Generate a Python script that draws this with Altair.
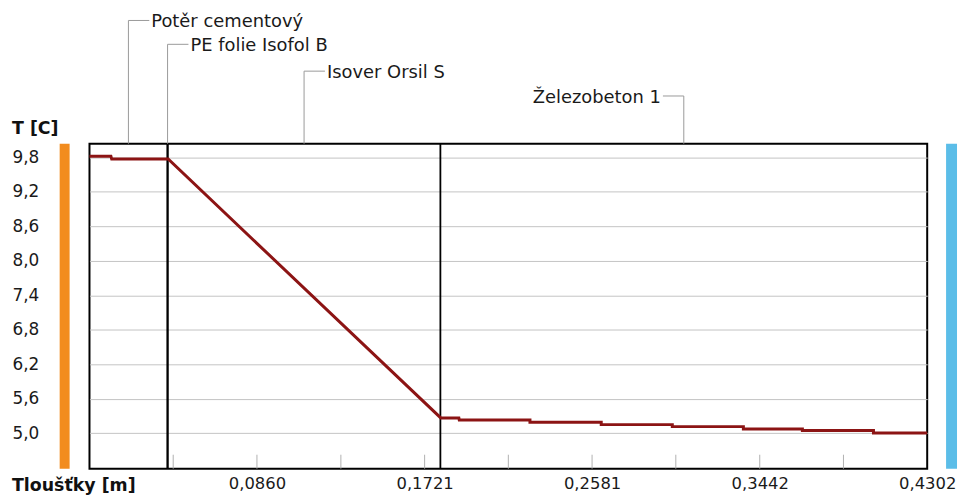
import altair as alt
import pandas as pd

# ---- data -------------------------------------------------------------
layer_names = ["Potěr cementový", "PE folie Isofol B", "Isover Orsil S", "Železobeton 1"]
layer_thickness = [0.0400, 0.0002, 0.1400, 0.2500]

profile_depth = [0.0000, 0.0110, 0.0114, 0.0402, 0.0404, 0.1804, 0.1897, 0.1899,
                 0.2262, 0.2262, 0.2628, 0.2628, 0.2993, 0.2993, 0.3358, 0.3358,
                 0.3661, 0.3661, 0.4026, 0.4026, 0.4302]
profile_temp = [9.82, 9.82, 9.77, 9.77, 9.77, 5.265, 5.265, 5.23,
                5.23, 5.19, 5.19, 5.149, 5.149, 5.114, 5.114, 5.074,
                5.074, 5.045, 5.045, 5.005, 5.005]

y_tick_values = [5.0, 5.6, 6.2, 6.8, 7.4, 8.0, 8.6, 9.2, 9.8]
x_tick_values = [0.0860, 0.1721, 0.2581, 0.3442, 0.4302]
x_minor_ticks = [0.0430, 0.0860, 0.1291, 0.1721, 0.2151, 0.2581, 0.3011, 0.3442, 0.3872]

# ---- derived tables ---------------------------------------------------
bounds = []
acc = 0.0
for t in layer_thickness:
    bounds.append((acc, acc + t))
    acc += t
total = acc

layers_df = pd.DataFrame({
    "name": layer_names,
    "start": [b[0] for b in bounds],
    "end": [b[1] for b in bounds],
})
layers_df["mid"] = (layers_df["start"] + layers_df["end"]) / 2

boundary_df = pd.DataFrame({"depth": [b[1] for b in bounds[:-1]]})
profile_df = pd.DataFrame({"depth": profile_depth, "temp": profile_temp,
                           "i": list(range(len(profile_depth)))})
minor_df = pd.DataFrame({"depth": x_minor_ticks})

# ---- layout constants (pixels) ----------------------------------------
W, H = 843, 327
FONT = "DejaVu Sans"
TXT = "#1a1a1a"
GRAY = "#9a9a9a"

x_scale = alt.Scale(domain=[0, total], nice=False, zero=False)
y_scale = alt.Scale(domain=[4.383, 10.037], nice=False, zero=False)

line = alt.Chart(profile_df).mark_line(color="#8c1414", strokeWidth=3).encode(
    x=alt.X("depth:Q", scale=x_scale,
            axis=alt.Axis(values=x_tick_values, title=None, ticks=False, domain=False, grid=False,
                          labelExpr="replace(format(datum.value, '.4f'), '.', ',')",
                          labelFont=FONT, labelFontSize=16.5, labelColor=TXT, labelPadding=7,
                          labelFlush=False)),
    y=alt.Y("temp:Q", scale=y_scale,
            axis=alt.Axis(values=y_tick_values, title=None, ticks=False, domain=False,
                          grid=True, gridColor="#c4c4c4", gridWidth=1,
                          labelExpr="replace(format(datum.value, '.1f'), '.', ',')",
                          labelAlign="left", labelBaseline="middle", labelPadding=78,
                          labelFont=FONT, labelFontSize=17, labelColor=TXT)),
    order="i:Q",
)

boundaries = alt.Chart(boundary_df).mark_rule(color="black", strokeWidth=1.8).encode(
    x="depth:Q", y=alt.value(0), y2=alt.value(H))

minor = alt.Chart(minor_df).mark_rule(color="#b0b0b0", strokeWidth=1).encode(
    x="depth:Q", y=alt.value(H - 14), y2=alt.value(H))

orange_bar = alt.Chart(layers_df.iloc[[0]]).mark_rect(color="#f28c1e").encode(
    x=alt.value(-30), x2=alt.value(-20), y=alt.value(0), y2=alt.value(H))
blue_bar = alt.Chart(layers_df.iloc[[0]]).mark_rect(color="#5bbde8").encode(
    x=alt.value(W + 19), x2=alt.value(W + 30), y=alt.value(0), y2=alt.value(H))

y_title = alt.Chart(layers_df.iloc[[0]]).mark_text(
    text="T [C]", align="left", baseline="middle", font=FONT, fontSize=17.5,
    fontWeight="bold", color="#111111").encode(x=alt.value(-78), y=alt.value(-15))
x_title = alt.Chart(layers_df.iloc[[0]]).mark_text(
    text="Tloušťky [m]", align="left", baseline="middle", font=FONT, fontSize=17.5,
    fontWeight="bold", color="#111111").encode(x=alt.value(-78), y=alt.value(H + 17))

# annotations: leader heights above the plot and direction of the label
ann_top = [-124, -100, -73, -48]
ann_dir = [1, 1, 1, -1]
ann_layers = []
for k in range(len(layer_names)):
    d = layers_df.iloc[[k]]
    top = ann_top[k]
    s = ann_dir[k]
    ann_layers.append(alt.Chart(d).mark_rule(color=GRAY, strokeWidth=1).encode(
        x="mid:Q", y=alt.value(top), y2=alt.value(0)))
    ann_layers.append(alt.Chart(d).mark_rule(color=GRAY, strokeWidth=1, x2Offset=s * 21).encode(
        x="mid:Q", x2=alt.X2("mid"), y=alt.value(top), y2=alt.value(top)))
    ann_layers.append(alt.Chart(d).mark_text(
        align="left" if s > 0 else "right", baseline="middle", dx=s * 23,
        font=FONT, fontSize=18, color=TXT).encode(
        x="mid:Q", y=alt.value(top + 2), text="name:N"))

chart = alt.layer(
    boundaries, minor, orange_bar, blue_bar, y_title, x_title, *ann_layers, line,
).properties(
    width=W, height=H,
    autosize=alt.AutoSizeParams(type="none"),
    padding={"left": 82, "top": 135, "right": 32, "bottom": 30},
    background="white",
).configure_view(stroke="black", strokeWidth=2)

chart.save("out.html", embed_options={"renderer": "svg", "actions": False})
